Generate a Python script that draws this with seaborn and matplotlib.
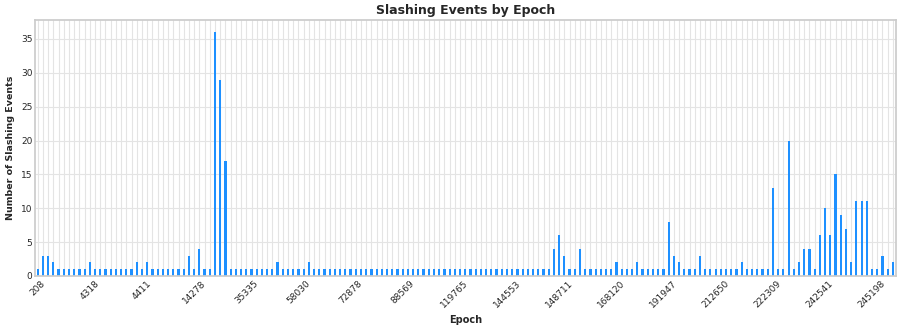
import matplotlib
matplotlib.use("Agg")
import matplotlib.pyplot as plt
import seaborn as sns
import pandas as pd

# Slashing event counts, one per epoch bucket (left to right)
counts = [
    1, 3, 3, 2, 1, 1, 1, 1, 1, 1,
    2, 1, 1, 1, 1, 1, 1, 1, 1, 2,
    1, 2, 1, 1, 1, 1, 1, 1, 1, 3,
    1, 4, 1, 1, 36, 29, 17, 1, 1, 1,
    1, 1, 1, 1, 1, 1, 2, 1, 1, 1,
    1, 1, 2, 1, 1, 1, 1, 1, 1, 1,
    1, 1, 1, 1, 1, 1, 1, 1, 1, 1,
    1, 1, 1, 1, 1, 1, 1, 1, 1, 1,
    1, 1, 1, 1, 1, 1, 1, 1, 1, 1,
    1, 1, 1, 1, 1, 1, 1, 1, 1, 4,
    6, 3, 1, 1, 4, 1, 1, 1, 1, 1,
    1, 2, 1, 1, 1, 2, 1, 1, 1, 1,
    1, 8, 3, 2, 1, 1, 1, 3, 1, 1,
    1, 1, 1, 1, 1, 2, 1, 1, 1, 1,
    1, 13, 1, 1, 20, 1, 2, 4, 4, 1,
    6, 10, 6, 15, 9, 7, 2, 11, 11, 11,
    1, 1, 3, 1, 2,
]

# Visible epoch tick labels (every 10th bar)
tick_labels = ["208", "4318", "4411", "14278", "35335", "58030", "72878",
               "88569", "119765", "144553", "148711", "168120", "191947",
               "212650", "222309", "242541", "245198"]
tick_step = 10

df = pd.DataFrame({"slot": list(range(len(counts))), "events": counts})

sns.set_theme(style="whitegrid")
fig, ax = plt.subplots(figsize=(9, 3.27), dpi=100)
sns.barplot(data=df, x="slot", y="events", color="#1E90FF", saturation=1,
            width=0.42, linewidth=0, ax=ax)

labels = [""] * len(counts)
for i, lab in enumerate(tick_labels):
    labels[i * tick_step] = lab
ax.set_xticks(range(len(counts)))
ax.set_xticklabels(labels, rotation=45, ha="center", fontsize=6.5)
ax.tick_params(axis="y", labelsize=6.5)
ax.tick_params(axis="both", length=0, pad=2)
ax.grid(True, axis="both", color="#e4e4e4", linewidth=0.8)

ax.set_title("Slashing Events by Epoch", fontsize=9, fontweight="bold", pad=4)
ax.set_xlabel("Epoch", fontsize=7, fontweight="bold")
ax.set_ylabel("Number of Slashing Events", fontsize=6.8, fontweight="bold")

fig.subplots_adjust(left=0.039, right=0.995, top=0.939, bottom=0.156)
fig.savefig("out.png", dpi=100)
